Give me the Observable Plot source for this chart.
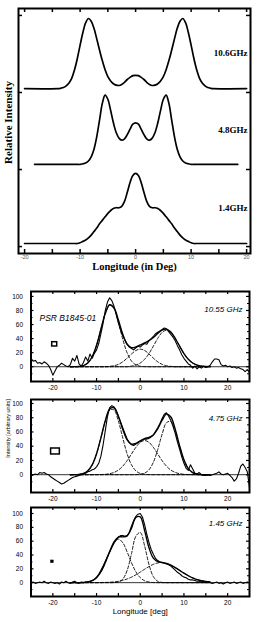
<!DOCTYPE html>
<html><head><meta charset="utf-8">
<script src="https://cdn.jsdelivr.net/npm/d3@7"></script>
<script src="https://cdn.jsdelivr.net/npm/@observablehq/plot@0.6"></script>
<style>
html,body{margin:0;padding:0;background:#fff;}
#c{position:relative;width:259px;height:622px;overflow:hidden;background:#fff;}
#c > svg{position:absolute;left:0;}
</style></head><body><div id="c"></div>
<script>
// ---------------- top panel: model profiles ----------------
const modelFreq = ["10.6GHz", "4.8GHz", "1.4GHz"];
const modelBase = [2.05, 1.066, 0.04];
const modelPeak = [0.91, 0.90, 0.91];
const modelStart = [-20, -18.2, -20];
const modelEnd = [20, 18.4, 20];
const modelLon = [-14,-13.5,-13,-12.5,-12,-11.5,-11,-10.5,-10,-9.5,-9,-8.5,-8,-7.5,-7,-6.5,-6,-5.5,-5,-4.5,-4,-3.5,-3,-2.5,-2,-1.5,-1,-0.5,0,0.5,1,1.5,2,2.5,3,3.5,4,4.5,5,5.5,6,6.5,7,7.5,8,8.5,9,9.5,10,10.5,11,11.5,12,12.5,13,13.5,14];
const model106 = [0,0.005,0.015,0.04,0.08,0.15,0.27,0.43,0.62,0.80,0.94,1.0,0.96,0.86,0.71,0.55,0.40,0.27,0.17,0.11,0.07,0.05,0.045,0.06,0.09,0.13,0.16,0.185,0.19,0.185,0.16,0.13,0.09,0.06,0.045,0.05,0.07,0.11,0.17,0.27,0.40,0.55,0.71,0.86,0.96,1.0,0.94,0.80,0.62,0.43,0.27,0.15,0.08,0.04,0.015,0.005,0];
const model48 = [0,0,0,0,0,0,0,0,0,0.01,0.02,0.05,0.11,0.22,0.4,0.64,0.88,1.0,0.94,0.78,0.6,0.46,0.38,0.35,0.37,0.43,0.51,0.58,0.6,0.58,0.51,0.43,0.37,0.35,0.38,0.46,0.6,0.78,0.94,1.0,0.88,0.64,0.4,0.22,0.11,0.05,0.02,0.01,0,0,0,0,0,0,0,0,0];
const model14 = [0,0,0,0,0,0,0,0,0.01,0.03,0.05,0.08,0.12,0.17,0.22,0.28,0.33,0.38,0.43,0.47,0.5,0.51,0.51,0.53,0.6,0.73,0.87,0.97,1.0,0.97,0.87,0.73,0.6,0.53,0.51,0.51,0.5,0.47,0.43,0.38,0.33,0.28,0.22,0.17,0.12,0.08,0.05,0.03,0.01,0,0,0,0,0,0,0,0];
const topTicksX = [-20,-15,-10,-5,0,5,10,15,20];
const topLabelsX = [-20,-10,0,10,20];
const topTicksY = [0,1,2,3];

// ---------------- lower panels: observed profiles + gaussian fits ----------------
const obsFreq = ["10.55 GHz", "4.75 GHz", "1.45 GHz"];
const obsLon = [-25,-24.5,-24,-23.5,-23,-22.5,-22,-21.5,-21,-20.5,-20,-19.5,-19,-18.5,-18,-17.5,-17,-16.5,-16,-15.5,-15,-14.5,-14,-13.5,-13,-12.5,-12,-11.5,-11,-10.5,-10,-9.5,-9,-8.5,-8,-7.5,-7,-6.5,-6,-5.5,-5,-4.5,-4,-3.5,-3,-2.5,-2,-1.5,-1,-0.5,0,0.5,1,1.5,2,2.5,3,3.5,4,4.5,5,5.5,6,6.5,7,7.5,8,8.5,9,9.5,10,10.5,11,11.5,12,12.5,13,13.5,14,14.5,15,15.5,16,16.5,17,17.5,18,18.5,19,19.5,20,20.5,21,21.5,22,22.5,23,23.5,24,24.5,25];
const obs1055 = [11,8,9,5,6,4,7,5,2,-4,-12,-6,0,2,5,3,1,0,3,12,8,16,4,1,6,14,8,18,12,19,24,33,47,62,80,92,98,94,86,74,62,52,44,38,32,28,26,24,27,29,28,31,33,32,37,40,43,47,49,51,53,55,54,50,46,42,37,30,24,17,12,8,4,2,-2,1,-3,0,-2,1,-1,0,2,7,11,11,10,3,1,2,0,1,-1,0,-2,-1,-3,-4,-7,-4,-8];
const obs475 = [-2,0,1,0,3,2,3,1,0,-3,-5,-7,-9,-11,-13,-12,-10,-8,-6,-4,-3,-2,-1,0,1,2,4,5,7,8,11,16,26,42,62,82,94,97,95,90,82,74,66,58,50,45,42,41,43,45,47,49,50,50,51,53,56,61,66,72,79,85,87,82,76,68,58,46,36,25,16,9,6,14,8,2,1,3,0,-1,-1,0,-1,0,1,2,4,1,0,1,2,-1,-4,-9,-6,2,12,15,10,4,-18];
const obs145 = [0,1,-1,0,1,0,2,0,-1,1,0,-1,0,-2,1,0,2,0,-1,1,2,0,-1,1,0,1,1,2,3,5,8,12,18,24,31,38,44,51,57,62,66,68,68,67,68,73,82,90,96,99,100,95,84,70,58,48,41,35,32,30,29,28,27,26,24,21,18,15,13,10,8,7,5,4,4,3,2,2,1,2,0,1,0,-1,0,1,-1,0,-2,0,1,-1,0,1,-1,0,1,-1,0,1,0];

const compLon = [-16,-15,-14,-13,-12,-11,-10,-9,-8,-7,-6,-5,-4,-3,-2,-1,0,1,2,3,4,5,6,7,8,9,10,11,12,13,14,15,16];
const fit1055 = [0,0.1,0.4,1.7,5.4,14.2,30.5,53.4,75.8,88.1,83.8,66.4,46.1,32.0,27.2,28.1,31.0,33.9,37.0,41.5,47.3,52.2,53.4,49.3,40.3,29.3,18.8,10.6,5.3,2.3,0.9,0.3,0.1];
const comp1055a = [0,0.1,0.4,1.7,5.4,14.2,30.5,53.4,75.8,87.6,82.4,63.0,39.1,19.8,8.1,2.7,0.7,0.2,0,0,0,0,0,0,0,0,0,0,0,0,0,0,0];
const comp1055b = [0,0,0,0,0,0,0,0,0,0.5,1.4,3.4,7.0,12.2,18.2,23.1,25,23.1,18.2,12.2,7.0,3.4,1.4,0.5,0,0,0,0,0,0,0,0,0];
const comp1055c = [0,0,0,0,0,0,0,0,0,0,0,0,0,0,0.9,2.3,5.3,10.6,18.8,29.3,40.3,48.8,52,48.8,40.3,29.3,18.8,10.6,5.3,2.3,0.9,0.3,0.1];
const fit475 = [0,0.1,0.5,1.7,5.4,13.8,29.4,51.8,75.7,92.2,94.0,81.7,63.6,49.0,42.9,43.9,47.6,50.7,52.4,55.8,64.4,76.5,85.0,81.1,64.0,40.9,20.9,8.6,2.9,0.7,0.15,0,0];
const comp475a = [0,0.1,0.5,1.7,5.4,13.8,29.3,51.6,75.2,90.8,90.8,75.2,51.6,29.3,13.8,5.4,1.7,0.5,0.1,0,0,0,0,0,0,0,0,0,0,0,0,0,0];
const comp475b = [0,0,0,0,0,0,0.1,0.2,0.5,1.4,3.2,6.5,12.0,19.7,29.1,38.4,45.4,48,45.4,38.4,29.1,19.7,12.0,6.5,3.2,1.4,0.5,0.2,0.1,0,0,0,0];
const comp475c = [0,0,0,0,0,0,0,0,0,0,0,0,0,0,0,0.1,0.5,2.2,6.9,17.4,35.3,56.8,73.0,74.6,60.8,39.5,20.4,8.4,2.8,0.7,0.15,0,0];
const fit145 = [0,0,0.05,0.2,0.9,2.8,7.2,15.8,29.1,45.1,59.0,66.0,66.3,67.6,78.8,94.3,95.2,75.3,50.4,35.4,30.55,29.3,27.9,25.3,21.8,17.8,13.7,10.0,6.9,4.5,2.8,1.6,0.9];
const comp145a = [0,0,0.05,0.2,0.9,2.8,7.2,15.7,28.8,44.5,57.8,63,57.8,44.5,28.8,15.7,7.2,2.8,0.9,0.2,0.05,0,0,0,0,0,0,0,0,0,0,0,0];
const comp145b = [0,0,0,0,0,0,0,0,0,0,0.1,1.0,5.1,17.7,42.0,67.2,72.7,53.1,26.2,8.7,2.0,0.3,0,0,0,0,0,0,0,0,0,0,0];
const comp145c = [0,0,0,0,0,0,0,0.1,0.3,0.6,1.1,2.0,3.4,5.4,8.0,11.4,15.3,19.4,23.3,26.5,28.5,29.0,27.9,25.3,21.8,17.8,13.7,10.0,6.9,4.5,2.8,1.6,0.9];

// resolution boxes (longitude / intensity extent)
const boxX1 = [-20.15, -20.4, -20.4];
const boxX2 = [-19.0, -18.4, -19.8];
const boxY1 = [28.8, 28.4, 28.2];
const boxY2 = [34.9, 36.8, 32.1];
const boxFilled = [false, false, true];

const lowTicksX = [-20,-15,-10,-5,0,5,10,15,20];
const lowLabelsX = [-20,-10,0,10,20];
const lowTicksY = [0,20,40,60,80,100];
const lowMinorY = [-10,10,30,50,70,90];

// ---------------- drawing ----------------
const SANS = "Liberation Sans, Arial, Helvetica, sans-serif";
const SERIF = "Liberation Serif, Times New Roman, serif";
const container = document.getElementById("c");
const width = 259;

function place(svg, top) {
  svg.style.top = top + "px";
  container.appendChild(svg);
}

// top panel
{
  const mL = 18, mR = 9, mT = 8, mB = 27, H = 280;
  const fw = width - mL - mR, fh = H - mT - mB;
  const series = [model106, model48, model14];
  const rows = [];
  series.forEach((arr, i) => {
    rows.push({f: modelFreq[i], lon: modelStart[i], v: modelBase[i]});
    modelLon.forEach((lon, j) => rows.push({f: modelFreq[i], lon, v: modelBase[i] + modelPeak[i] * arr[j]}));
    rows.push({f: modelFreq[i], lon: modelEnd[i], v: modelBase[i]});
  });
  const svg = Plot.plot({
    width, height: H,
    marginLeft: mL, marginRight: mR, marginTop: mT, marginBottom: mB,
    style: {background: "transparent", overflow: "visible"},
    x: {domain: [-21.1, 20.7]},
    y: {domain: [-0.09, 3.09]},
    marks: [
      Plot.line(rows, {x: "lon", y: "v", z: "f", curve: "catmull-rom", stroke: "black", strokeWidth: 1.7}),
      Plot.ruleX(topTicksX, {x: d => d, insetTop: fh - 4, strokeWidth: 1.5}),
      Plot.ruleX(topTicksX, {x: d => d, insetBottom: fh - 4, strokeWidth: 1.5}),
      Plot.ruleY(topTicksY, {y: d => d, insetRight: fw - 4, strokeWidth: 1.5}),
      Plot.ruleY(topTicksY, {y: d => d, insetLeft: fw - 4, strokeWidth: 1.5}),
      Plot.frame({stroke: "black", strokeWidth: 2}),
      Plot.axisX({ticks: topLabelsX, tickSize: 0, tickPadding: 2, tickFormat: d => String(d), fontSize: 5.5, fontFamily: SANS, color: "#555", label: null}),
      Plot.axisY({ticks: [], label: null, tickSize: 0}),
      Plot.text(["Longitude (in Deg)"], {frameAnchor: "bottom", dy: 16.5, text: d => d, fontFamily: SERIF, fontWeight: "bold", fontSize: 10.5, fill: "black"}),
      Plot.text(["Relative Intensity"], {frameAnchor: "left", textAnchor: "middle", dx: -10, dy: -8.5, rotate: -90, text: d => d, fontFamily: SERIF, fontWeight: "bold", fontSize: 11, fill: "black"}),
      Plot.text(modelFreq, {y: (d, i) => modelBase[i] + modelPeak[i] * 0.5, frameAnchor: "right", dx: -3, textAnchor: "end", text: d => d, fontFamily: SERIF, fontWeight: "bold", fontSize: 9, fill: "black"})
    ]
  });
  place(svg, 0);
}

// lower panels
const layout = [
  {top: 280, height: 113, mt: 11, mb: 12, yd: [-21, 107], fdy: 15},
  {top: 393, height: 110, mt: 6, mb: 11, yd: [-25, 105.6], fdy: 16},
  {top: 503, height: 119, mt: 4, mb: 26, yd: [-20, 108.7], fdy: 13}
];
const obsSeries = [obs1055, obs475, obs145];
const fitSeries = [fit1055, fit475, fit145];
const compSeries = [[comp1055a, comp1055b, comp1055c], [comp475a, comp475b, comp475c], [comp145a, comp145b, comp145c]];

layout.forEach((L, p) => {
  const mL = 30.5, mR = 10;
  const fw = width - mL - mR, fh = L.height - L.mt - L.mb;
  const obs = obsLon.map((lon, i) => ({lon, v: obsSeries[p][i]}));
  const fit = compLon.map((lon, i) => ({lon, v: fitSeries[p][i]}));
  const comps = [];
  compSeries[p].forEach((arr, k) => compLon.forEach((lon, i) => comps.push({k, lon, v: arr[i]})));
  const box = [{x1: boxX1[p], x2: boxX2[p], y1: boxY1[p], y2: boxY2[p]}];
  const marks = [
    Plot.ruleY([0], {stroke: "black", strokeWidth: 0.8}),
    Plot.line(comps, {x: "lon", y: "v", z: "k", curve: "catmull-rom", stroke: "black", strokeWidth: 0.9, strokeDasharray: "3,2"}),
    Plot.line(fit, {x: "lon", y: "v", curve: "catmull-rom", stroke: "black", strokeWidth: 1.4}),
    Plot.line(obs, {x: "lon", y: "v", stroke: "black", strokeWidth: 1.1}),
    Plot.rect(box, {x1: "x1", x2: "x2", y1: "y1", y2: "y2", fill: boxFilled[p] ? "black" : "none", stroke: "black", strokeWidth: boxFilled[p] ? 0.5 : 1.5}),
    Plot.ruleX(lowTicksX, {x: d => d, insetTop: fh - 3, strokeWidth: 1.2}),
    Plot.ruleX(lowTicksX, {x: d => d, insetBottom: fh - 3, strokeWidth: 1.2}),
    Plot.ruleY(lowTicksY, {y: d => d, insetRight: fw - 3, strokeWidth: 1.2}),
    Plot.ruleY(lowTicksY, {y: d => d, insetLeft: fw - 3, strokeWidth: 1.2}),
    Plot.ruleY(lowMinorY, {y: d => d, insetRight: fw - 2, strokeWidth: 1}),
    Plot.ruleY(lowMinorY, {y: d => d, insetLeft: fw - 2, strokeWidth: 1}),
    Plot.frame({stroke: "black", strokeWidth: 2}),
    Plot.axisX({ticks: lowLabelsX, tickSize: 0, tickPadding: 4, tickFormat: d => String(d), fontSize: 6.5, fontFamily: SANS, color: "black", label: null}),
    Plot.axisY({ticks: lowTicksY, tickSize: 0, tickPadding: 8, tickFormat: d => String(d), fontSize: 6.5, fontFamily: SANS, color: "black", label: null}),
    Plot.text([obsFreq[p]], {frameAnchor: "top-right", dx: -7, dy: L.fdy, textAnchor: "end", text: d => d, fontFamily: SANS, fontStyle: "italic", fontSize: 8, fill: "black"})
  ];
  if (p === 0) {
    marks.push(Plot.text(["PSR B1845-01"], {frameAnchor: "top-left", dx: 8.5, dy: 23, textAnchor: "start", text: d => d, fontFamily: SANS, fontStyle: "italic", fontSize: 8.5, fill: "black"}));
  }
  if (p === 1) {
    marks.push(Plot.text(["Intensity [arbitrary units]"], {frameAnchor: "top-left", textAnchor: "middle", dx: -24.5, dy: 29, rotate: -90, text: d => d, fontFamily: SANS, fontSize: 5.5, fill: "black"}));
  }
  if (p === 2) {
    marks.push(Plot.text(["Longitude [deg]"], {frameAnchor: "bottom", dy: 17, text: d => d, fontFamily: SANS, fontSize: 8, fill: "black"}));
  }
  const svg = Plot.plot({
    width, height: L.height,
    marginLeft: mL, marginRight: mR, marginTop: L.mt, marginBottom: L.mb,
    style: {background: "transparent", overflow: "visible"},
    x: {domain: [-25, 25]},
    y: {domain: L.yd},
    marks
  });
  place(svg, L.top);
});
</script></body></html>
